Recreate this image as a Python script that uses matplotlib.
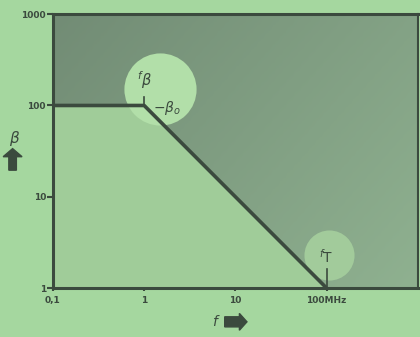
import numpy as np
import matplotlib.pyplot as plt
from matplotlib.patches import FancyArrow
from matplotlib.colors import LinearSegmentedColormap

# Data: asymptotic current gain beta vs frequency (log-log)
freq = [0.1, 1, 100, 1000]          # MHz
beta = [100, 100, 1, 0.1]
x_ticks = [0.1, 1, 10, 100]
x_labels = ['0,1', '1', '10', '100MHz']
y_ticks = [1, 10, 100, 1000]
y_labels = ['1', '10', '100', '1000']
f_beta, beta0 = 1, 100
f_t = 100

bg = '#a5d79f'
lower = '#a0cc99'
spot = '#b2dfa9'
ink = '#3b4a3e'

fig = plt.figure(figsize=(4.2, 3.37), dpi=100, facecolor=bg)
ax = fig.add_axes([0.126, 0.145, 0.869, 0.813])
ax.set_xscale('log')
ax.set_yscale('log')
ax.set_xlim(0.1, 1000)
ax.set_ylim(1, 1000)
ax.set_facecolor(lower)

xs = np.array(freq)
ys = np.array(beta)
region = ax.fill_between(xs, ys, 1000, color='none', zorder=1)

# darker grey-green above the curve, lighter towards bottom right
cmap = LinearSegmentedColormap.from_list('shade', ['#728c75', '#8fb190'])
gx, gy = np.meshgrid(np.linspace(0, 1, 100), np.linspace(1, 0, 100))
img = ax.imshow(0.6 * gx + 0.4 * (1 - gy), cmap=cmap, extent=[0, 1, 0, 1],
                transform=ax.transAxes, aspect='auto', zorder=1)
img.set_clip_path(region.get_paths()[0], transform=ax.transData)

# light spots behind the corner labels
ax.scatter([1.5], [150], s=2700, color=spot, zorder=2, linewidths=0)
ax.scatter([f_t * 1.05], [2.3], s=1300, color='#a2cb9b', zorder=2, linewidths=0)

ax.plot(xs, ys, color=ink, lw=2.6, zorder=3, solid_capstyle='butt')

# corner markers
ax.plot([f_beta, f_beta], [beta0, beta0 * 1.25], color=ink, lw=1.2, zorder=4)
ax.text(f_beta, beta0 * 1.45, r'$^f\beta$', ha='center', va='bottom', fontsize=10.5, color=ink, zorder=4)
ax.text(f_beta * 1.25, beta0 * 0.93, r'$-\beta_o$', ha='left', va='center', fontsize=10, color=ink, zorder=4)
ax.plot([f_t, f_t], [1.05, 1.6], color=ink, lw=1.2, zorder=4)
ax.text(f_t, 1.75, r'$^f\mathrm{T}$', ha='center', va='bottom', fontsize=10, color=ink, zorder=4)

ax.set_xticks(x_ticks)
ax.set_xticklabels(x_labels)
ax.set_yticks(y_ticks)
ax.set_yticklabels(y_labels)
ax.minorticks_off()
ax.tick_params(axis='x', length=2, width=1.5, color=ink, labelsize=6.5, labelcolor=ink, pad=4)
ax.tick_params(axis='y', length=4, width=1.5, color=ink, labelsize=6.5, labelcolor=ink, pad=1)
for lab in ax.get_xticklabels() + ax.get_yticklabels():
    lab.set_fontweight('bold')

for side in ['left', 'bottom', 'top']:
    ax.spines[side].set_color(ink)
    ax.spines[side].set_linewidth(2.2)
ax.spines['right'].set_color(ink)
ax.spines['right'].set_linewidth(1.5)

# axis labels with block arrows
fig.text(0.035, 0.59, r'$\beta$', fontsize=11, color=ink, ha='center', va='center')
fig.patches.append(FancyArrow(0.03, 0.495, 0, 0.04, width=0.018, head_width=0.045,
                              head_length=0.024, color=ink, transform=fig.transFigure))
fig.text(0.515, 0.045, r'$f$', fontsize=10, color=ink, ha='center', va='center')
fig.patches.append(FancyArrow(0.535, 0.045, 0.035, 0, width=0.03, head_width=0.05,
                              head_length=0.018, color=ink, transform=fig.transFigure))

fig.savefig('out.png', dpi=100, facecolor=bg)
